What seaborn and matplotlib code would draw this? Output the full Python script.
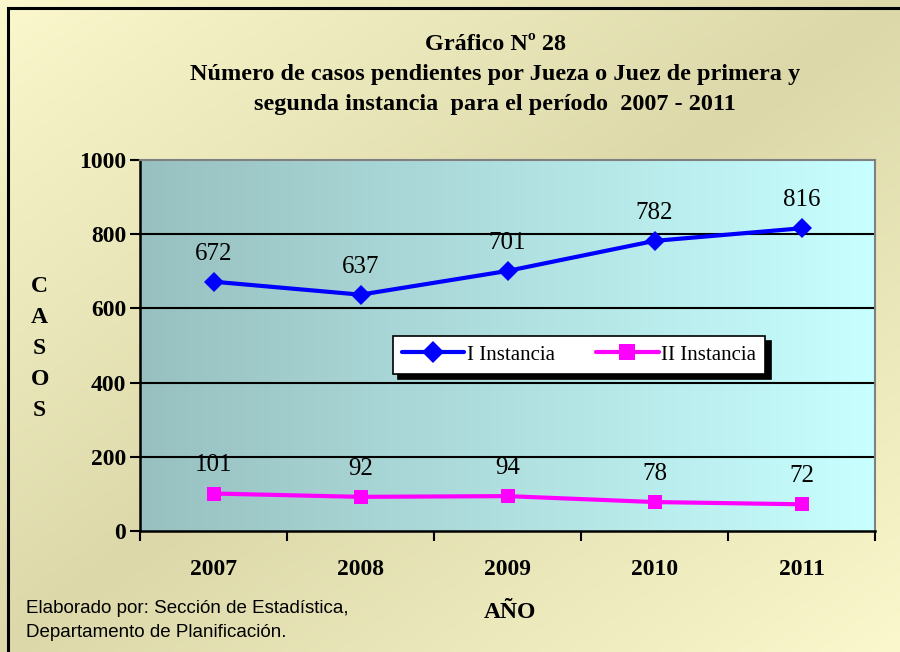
import numpy as np
import pandas as pd
import matplotlib
matplotlib.use('Agg')
import matplotlib.pyplot as plt
from matplotlib.colors import LinearSegmentedColormap
from matplotlib.patches import Rectangle
import seaborn as sns

years = ['2007', '2008', '2009', '2010', '2011']
primera = [672, 637, 701, 782, 816]
segunda = [101, 92, 94, 78, 72]
series_names = ['I Instancia', 'II Instancia']

sns.set_theme(style='white')
plt.rcParams['font.family'] = ['Liberation Serif', 'DejaVu Serif']
plt.rcParams['text.color'] = 'black'
plt.rcParams['xtick.color'] = 'black'
plt.rcParams['ytick.color'] = 'black'
plt.rcParams['axes.labelcolor'] = 'black'

fig = plt.figure(figsize=(9, 6.52), dpi=100)

# page background: light corners, darker khaki along the diagonal
bg = fig.add_axes([0, 0, 1, 1], zorder=-10)
gx, gy = np.meshgrid(np.linspace(0, 1, 300), np.linspace(0, 1, 220))
d = np.abs((gx + gy) - 1.0)
page_cmap = LinearSegmentedColormap.from_list('page', ['#dcd8aa', '#faf8cc'])
bg.imshow(d, cmap=page_cmap, aspect='auto', extent=[0, 1, 0, 1], origin='upper', vmin=0, vmax=1)
bg.set_axis_off()
bg.add_patch(Rectangle((0.009, -0.2), 1.2, 1.188, fill=False, ec='black', lw=2.2,
                       transform=bg.transAxes, clip_on=False))

ax = fig.add_axes([0.1556, 0.1856, 0.8167, 0.569])

# plot area gradient
plot_cmap = LinearSegmentedColormap.from_list('plot', ['#98c0c0', '#c8ffff'])
ax.imshow(np.linspace(0, 1, 256)[None, :], cmap=plot_cmap, aspect='auto',
          extent=[-0.5, 4.5, 0, 1000], zorder=0)

x = np.arange(len(years))
df = pd.DataFrame({'x': np.concatenate([x, x]),
                   'casos': primera + segunda,
                   'serie': [series_names[0]] * 5 + [series_names[1]] * 5})

sns.lineplot(data=df, x='x', y='casos', hue='serie', style='serie',
             palette={series_names[0]: '#0000ff', series_names[1]: '#ff00ff'},
             markers={series_names[0]: 'D', series_names[1]: 's'},
             dashes=False, lw=3, markersize=10, markeredgewidth=0, ax=ax, zorder=3)

for xi, v in zip(x, primera):
    ax.text(xi, v + 46, str(v), ha='center', va='bottom', fontsize=18, zorder=4)
for xi, v in zip(x, segunda):
    ax.text(xi, v + 46, str(v), ha='center', va='bottom', fontsize=18, zorder=4)

ax.set_xlim(-0.5, 4.5)
ax.set_ylim(0, 1000)
ax.set_yticks(range(0, 1001, 200))
ax.set_xticks(x)
ax.set_xticklabels(years, fontsize=17, fontweight='bold')
ax.set_yticklabels([str(v) for v in range(0, 1001, 200)], fontsize=17, fontweight='bold')
ax.set_xticks(np.arange(-0.5, 4.6, 1), minor=True)
ax.tick_params(axis='x', which='major', length=0, pad=20)
ax.tick_params(axis='x', which='minor', length=7, width=1.5, direction='out', color='black', bottom=True)
ax.tick_params(axis='y', length=7, width=1.5, direction='out', color='black', left=True, pad=3)
for yv in range(200, 1000, 200):
    ax.axhline(yv, color='black', lw=1.5, zorder=1)
ax.set_xlabel('')
ax.set_ylabel('')
ax.spines['left'].set_color('black')
ax.spines['left'].set_linewidth(1.8)
ax.spines['bottom'].set_color('black')
ax.spines['bottom'].set_linewidth(1.8)
ax.spines['top'].set_color('#808080')
ax.spines['right'].set_color('#808080')
ax.spines['top'].set_linewidth(1.5)
ax.spines['right'].set_linewidth(1.5)

leg = ax.legend(loc='center', bbox_to_anchor=(0.597, 0.475), ncol=2, fontsize=15,
                frameon=True, fancybox=False, edgecolor='black', framealpha=1,
                handlelength=3.0, columnspacing=2.0, handletextpad=0.1,
                borderpad=0.45, title=None,
                shadow={'color': 'black', 'alpha': 1, 'ox': 4, 'oy': -4})
leg.get_frame().set_linewidth(1.2)
for h in leg.get_lines():
    h.set_linewidth(3)
    h.set_markersize(11)

title_kw = dict(ha='center', va='center', fontsize=17.5, fontweight='bold')
fig.text(0.55, 0.932, 'Gráfico Nº 28', **title_kw)
fig.text(0.55, 0.886, 'Número de casos pendientes por Jueza o Juez de primera y', **title_kw)
fig.text(0.55, 0.840, 'segunda instancia  para el período  2007 - 2011', **title_kw)

for i, ch in enumerate('CASOS'):
    fig.text(0.044, 0.561 - i * 0.0478, ch, ha='center', va='center', fontsize=17, fontweight='bold')

fig.text(0.567, 0.061, 'AÑO', ha='center', va='center', fontsize=17, fontweight='bold')
fig.text(0.029, 0.067, 'Elaborado por: Sección de Estadística,', ha='left', va='center',
         fontsize=13.5, family=['Liberation Sans', 'DejaVu Sans'])
fig.text(0.029, 0.030, 'Departamento de Planificación.', ha='left', va='center',
         fontsize=13.5, family=['Liberation Sans', 'DejaVu Sans'])

fig.savefig('out.png', dpi=100)
